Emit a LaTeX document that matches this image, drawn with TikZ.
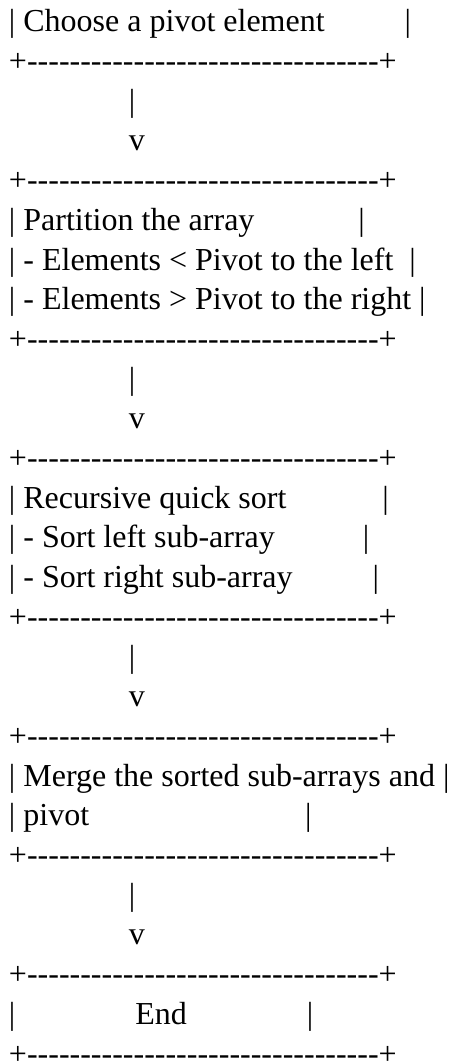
\documentclass[tikz,border=0pt]{standalone}
\usepackage{fontspec}
\newfontfamily\asciifont{Liberation Serif}
% n inter-word spaces of the current font
\newcommand{\spc}[1]{\hspace*{#1\fontdimen2\font}}
% separate hyphens so no dash ligature forms
\newcommand{\elevendash}{-{}-{}-{}-{}-{}-{}-{}-{}-{}-{}-{}}
\newcommand{\border}{+\elevendash\elevendash\elevendash+}
\tikzset{
  txtline/.style={anchor=base west, inner sep=0pt, outer sep=0pt,
    font=\asciifont\fontsize{32}{39.7}\selectfont, text=black}
}
\begin{document}
\begin{tikzpicture}[x=1pt,y=-1pt]
\useasboundingbox (0,0) rectangle (451,1063);
% step 1
\node[txtline] (r1)  at (9,31.8)   {| Choose a pivot element\spc{10}|};
\node[txtline] (r2)  at (9,71.5)   {\border};
\node[txtline] (r3)  at (9,111.2)  {\spc{15}|};
\node[txtline] (r4)  at (9,150.9)  {\spc{15}v};
% step 2
\node[txtline] (r5)  at (9,190.6)  {\border};
\node[txtline] (r6)  at (9,230.3)  {| Partition the array\spc{13}|};
\node[txtline] (r7)  at (9,270.0)  {| - Elements < Pivot to the left\spc{2}|};
\node[txtline] (r8)  at (9,309.7)  {| - Elements > Pivot to the right |};
\node[txtline] (r9)  at (9,349.4)  {\border};
\node[txtline] (r10) at (9,389.1)  {\spc{15}|};
\node[txtline] (r11) at (9,428.8)  {\spc{15}v};
% step 3
\node[txtline] (r12) at (9,468.5)  {\border};
\node[txtline] (r13) at (9,508.2)  {| Recursive quick sort\spc{12}|};
\node[txtline] (r14) at (9,547.9)  {| - Sort left sub-array\spc{11}|};
\node[txtline] (r15) at (9,587.6)  {| - Sort right sub-array\spc{10}|};
\node[txtline] (r16) at (9,627.3)  {\border};
\node[txtline] (r17) at (9,667.0)  {\spc{15}|};
\node[txtline] (r18) at (9,706.7)  {\spc{15}v};
% step 4
\node[txtline] (r19) at (9,746.4)  {\border};
\node[txtline] (r20) at (9,786.1)  {| Merge the sorted sub-arrays and |};
\node[txtline] (r21) at (9,825.8)  {| pivot\spc{27}|};
\node[txtline] (r22) at (9,865.5)  {\border};
\node[txtline] (r23) at (9,905.2)  {\spc{15}|};
\node[txtline] (r24) at (9,944.9)  {\spc{15}v};
% end
\node[txtline] (r25) at (9,984.6)  {\border};
\node[txtline] (r26) at (9,1024.3) {|\spc{15}End\spc{15}|};
\node[txtline] (r27) at (9,1064.0) {\border};
\end{tikzpicture}
\end{document}
